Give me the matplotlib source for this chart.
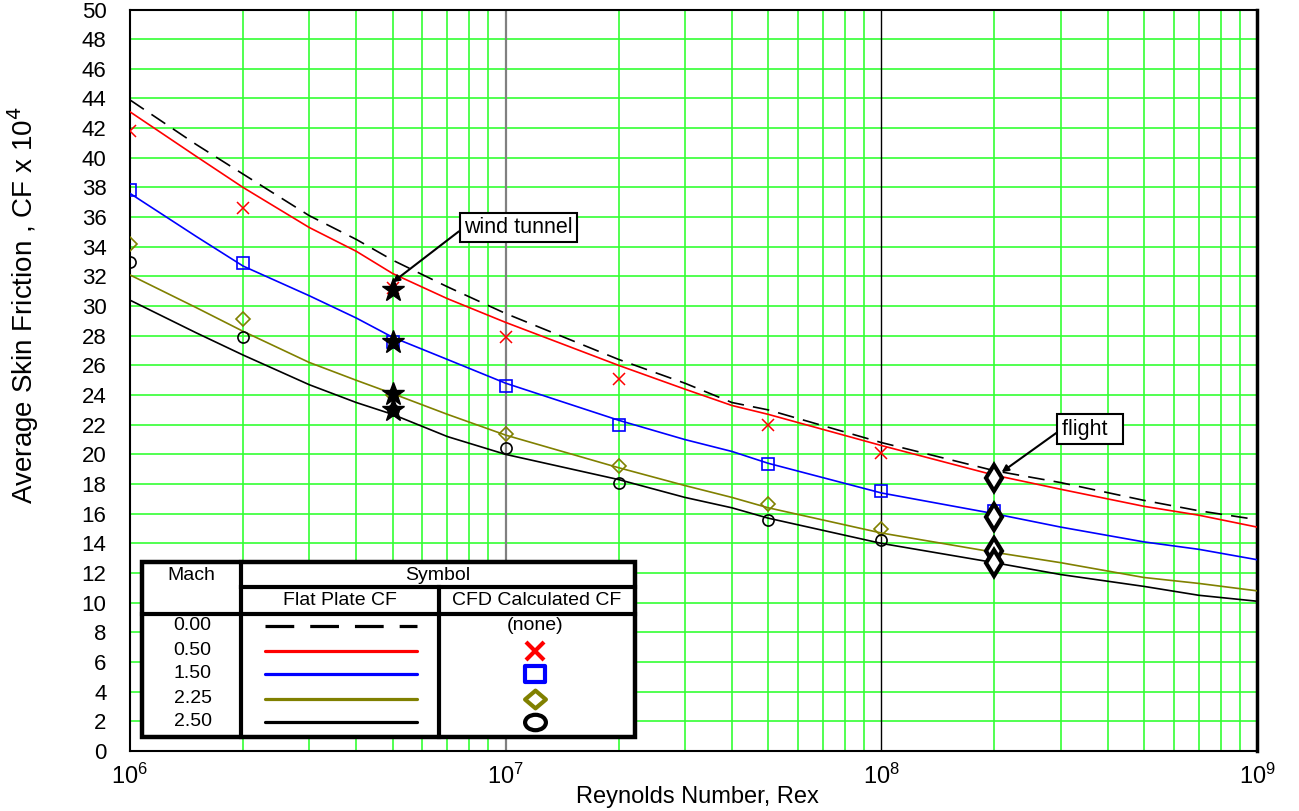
import numpy as np
import matplotlib
matplotlib.use("Agg")
import matplotlib.pyplot as plt
from matplotlib.path import Path
from matplotlib.transforms import Affine2D
from matplotlib.ticker import LogLocator, NullFormatter, MultipleLocator

plt.rcParams["font.family"] = ["Liberation Sans", "DejaVu Sans"]

# ---------------------------------------------------------------------------
# Data (CF x 1e4 vs Reynolds number)
# ---------------------------------------------------------------------------
RE_CURVE = [1e6, 1.5e6, 2e6, 3e6, 4e6, 5e6, 7e6, 1e7, 2e7, 3e7, 4e7, 5e7,
            1e8, 2e8, 3e8, 5e8, 7e8, 1e9]
CF_M000 = [43.9, 40.9, 38.9, 36.1, 34.5, 33.1, 31.3, 29.5, 26.4, 24.8, 23.5, 23.0,
           20.8, 18.9, 18.1, 16.9, 16.2, 15.6]
CF_M050 = [43.1, 40.1, 38.0, 35.3, 33.7, 32.2, 30.5, 28.9, 26.0, 24.4, 23.3, 22.7,
           20.6, 18.6, 17.65, 16.5, 15.9, 15.1]
CF_M150 = [37.6, 34.7, 32.7, 30.7, 29.2, 27.9, 26.4, 24.8, 22.3, 21.0, 20.2, 19.4,
           17.4, 16.0, 15.1, 14.1, 13.6, 12.9]
CF_M225 = [32.1, 29.9, 28.3, 26.2, 25.0, 24.1, 22.7, 21.3, 19.1, 17.9, 17.1, 16.4,
           14.7, 13.4, 12.7, 11.7, 11.3, 10.8]
CF_M250 = [30.4, 28.2, 26.7, 24.7, 23.5, 22.7, 21.2, 20.0, 18.3, 17.1, 16.4, 15.7,
           14.0, 12.7, 11.9, 11.1, 10.5, 10.1]

RE_CFD = [1e6, 2e6, 5e6, 1e7, 2e7, 5e7, 1e8, 2e8]
CFD_M050 = [41.8, 36.6, 31.2, 27.9, 25.1, 22.0, 20.1, np.nan]
CFD_M150 = [37.8, 32.9, 27.6, 24.6, 22.0, 19.35, 17.5, 16.2]
CFD_M225 = [34.2, 29.1, 24.0, 21.4, 19.2, 16.65, 15.0, 13.5]
CFD_M250 = [33.0, 27.9, 23.0, 20.4, 18.1, 15.6, 14.2, 12.6]

RE_TUNNEL = 5e6
CF_TUNNEL = [31.1, 27.6, 24.1, 23.0]
RE_FLIGHT = 2e8
CF_FLIGHT = [18.4, 15.8, 13.5, 12.7]

MACH_LABELS = ["0.00", "0.50", "1.50", "2.25", "2.50"]
OLIVE = "#808000"
GREEN = "#33ff33"

# ---------------------------------------------------------------------------
# Figure
# ---------------------------------------------------------------------------
fig = plt.figure(figsize=(12.99, 8.11), dpi=100)
ax = fig.add_axes([130 / 1299, 1 - 751 / 811, 1127 / 1299, 741.5 / 811])

ax.set_xscale("log")
ax.set_xlim(1e6, 1e9)
ax.set_ylim(0, 50)
ax.yaxis.set_major_locator(MultipleLocator(2))
ax.xaxis.set_major_locator(LogLocator(base=10, numticks=10))
ax.xaxis.set_minor_locator(LogLocator(base=10, subs=np.arange(2, 10), numticks=30))
ax.xaxis.set_minor_formatter(NullFormatter())

# grid: green for minor decades and every 2 units, dark for decades
ax.grid(True, which="minor", axis="x", color=GREEN, lw=1.2)
ax.grid(True, which="major", axis="y", color=GREEN, lw=1.2)
ax.axvline(1e7, color="#808080", lw=1.6, zorder=1)
ax.axvline(1e8, color="black", lw=1.0, zorder=1)
ax.set_axisbelow(True)

ax.tick_params(axis="both", which="both", length=0)
ax.tick_params(axis="y", labelsize=16, pad=17)
ax.tick_params(axis="x", labelsize=17, pad=9)
for sp in ax.spines.values():
    sp.set_linewidth(1.5)
ax.spines["right"].set_linewidth(2.5)

# flat plate curves
ax.plot(RE_CURVE, CF_M000, color="black", lw=1.2, ls=(0, (10, 5.5)), zorder=3)
ax.plot(RE_CURVE, CF_M050, color="red", lw=1.2, zorder=3)
ax.plot(RE_CURVE, CF_M150, color="blue", lw=1.2, zorder=3)
ax.plot(RE_CURVE, CF_M225, color=OLIVE, lw=1.2, zorder=3)
ax.plot(RE_CURVE, CF_M250, color="black", lw=1.2, zorder=3)

# CFD points
ax.plot(RE_CFD, CFD_M050, ls="none", marker="x", ms=8, mew=1.1, color="red", zorder=4)
ax.plot(RE_CFD, CFD_M150, ls="none", marker="s", ms=8, mew=1.2, mfc="none",
        mec="blue", zorder=4)
ax.plot(RE_CFD, CFD_M225, ls="none", marker="D", ms=7, mew=1.2, mfc="none",
        mec=OLIVE, zorder=4)
ax.plot(RE_CFD, CFD_M250, ls="none", marker="o", ms=8, mew=1.2, mfc="none",
        mec="black", zorder=4)

# wind tunnel / flight conditions
ax.plot([RE_TUNNEL] * len(CF_TUNNEL), CF_TUNNEL, ls="none", marker="*", ms=17,
        color="black", zorder=5)
ax.plot([RE_FLIGHT] * len(CF_FLIGHT), CF_FLIGHT, ls="none", marker="d", ms=13,
        mew=3, mfc="white", mec="black", zorder=5)

arrow = dict(arrowstyle="-|>", color="black", lw=1.5, mutation_scale=10,
             shrinkA=0, shrinkB=0, relpos=(0, 0.5))
box = dict(boxstyle="square,pad=0.2", fc="white", ec="black", lw=1.5)
ax.annotate("wind tunnel", xy=(5.0e6, 31.6), xytext=(1.08e7, 35.3),
            fontsize=15.5, ha="center", va="center", bbox=box, arrowprops=arrow,
            zorder=6)
ax.annotate("flight  ", xy=(2.09e8, 18.8), xytext=(3.6e8, 21.7),
            fontsize=15.5, ha="center", va="center", bbox=box, arrowprops=arrow,
            zorder=6)

fig.text(23 / 1299, 1 - 305 / 811, "Average Skin Friction , CF x 10$^4$",
         rotation=90, fontsize=20, ha="center", va="center")
fig.text(697 / 1299, 1 - 797 / 811, "Reynolds Number, Rex", fontsize=17,
         ha="center", va="center")

# ---------------------------------------------------------------------------
# Legend table (drawn by hand in its own axes, pixel coordinates)
# ---------------------------------------------------------------------------
TW, TH = 493.3, 174.4
lg = fig.add_axes([141.7 / 1299, 1 - 736.7 / 811, TW / 1299, TH / 811], zorder=10)
lg.set_xlim(0, TW)
lg.set_ylim(TH, 0)
lg.axis("off")
lg.add_patch(plt.Rectangle((0, 0), TW, TH, fc="white", ec="black", lw=3.2,
                           clip_on=False))
C1, C2 = 99.3, 297.3
lg.plot([C1, C1], [0, TH], color="black", lw=3, clip_on=False)
lg.plot([C2, C2], [25, TH], color="black", lw=3, clip_on=False)
lg.plot([C1, TW], [25, 25], color="black", lw=3, clip_on=False)
lg.plot([0, TW], [51.7, 51.7], color="black", lw=3, clip_on=False)

fs = 14
lg.text(C1 / 2, 13, "Mach", fontsize=fs, ha="center", va="center")
lg.text((C1 + TW) / 2, 13, "Symbol", fontsize=fs, ha="center", va="center")
lg.text((C1 + C2) / 2, 38, "Flat Plate CF", fontsize=fs, ha="center", va="center")
lg.text((C2 + TW) / 2, 38, "CFD Calculated CF", fontsize=fs, ha="center", va="center")

ROW_Y = [63.4, 88.4, 111.7, 136.4, 159.7]
for yy, lab in zip(ROW_Y, MACH_LABELS):
    lg.text(51, yy, lab, fontsize=fs, ha="center", va="center")

LX = [123.3, 275.3]
lg.plot(LX, [ROW_Y[0]] * 2, color="black", lw=2.3, ls=(0, (9, 5)))
lg.plot(LX, [ROW_Y[1]] * 2, color="red", lw=2.3, solid_capstyle="round")
lg.plot(LX, [ROW_Y[2]] * 2, color="blue", lw=2.3, solid_capstyle="round")
lg.plot(LX, [ROW_Y[3]] * 2, color=OLIVE, lw=2.3, solid_capstyle="round")
lg.plot(LX, [ROW_Y[4]] * 2, color="black", lw=2.3, solid_capstyle="round")

MX = 393.3
rect_m = Affine2D().translate(-0.5, -0.5).scale(1.0, 0.78) \
    .transform_path(Path.unit_rectangle())
diam_m = Affine2D().translate(-0.5, -0.5).rotate_deg(45).scale(1.0, 0.85) \
    .transform_path(Path.unit_rectangle())
ell_m = Affine2D().scale(1.0, 0.74).transform_path(Path.unit_circle())
lg.text(MX, ROW_Y[0], "(none)", fontsize=fs, ha="center", va="center")
lg.plot([MX], [ROW_Y[1]], marker="x", ms=13, mew=3, color="red")
lg.plot([MX], [ROW_Y[2]], marker=rect_m, ms=14, mew=3, mfc="none", mec="blue")
lg.plot([MX], [ROW_Y[3]], marker=diam_m, ms=15, mew=3, mfc="none", mec=OLIVE)
lg.plot([MX], [ROW_Y[4]], marker=ell_m, ms=15, mew=3, mfc="none", mec="black")

fig.savefig("out.png", dpi=100)
